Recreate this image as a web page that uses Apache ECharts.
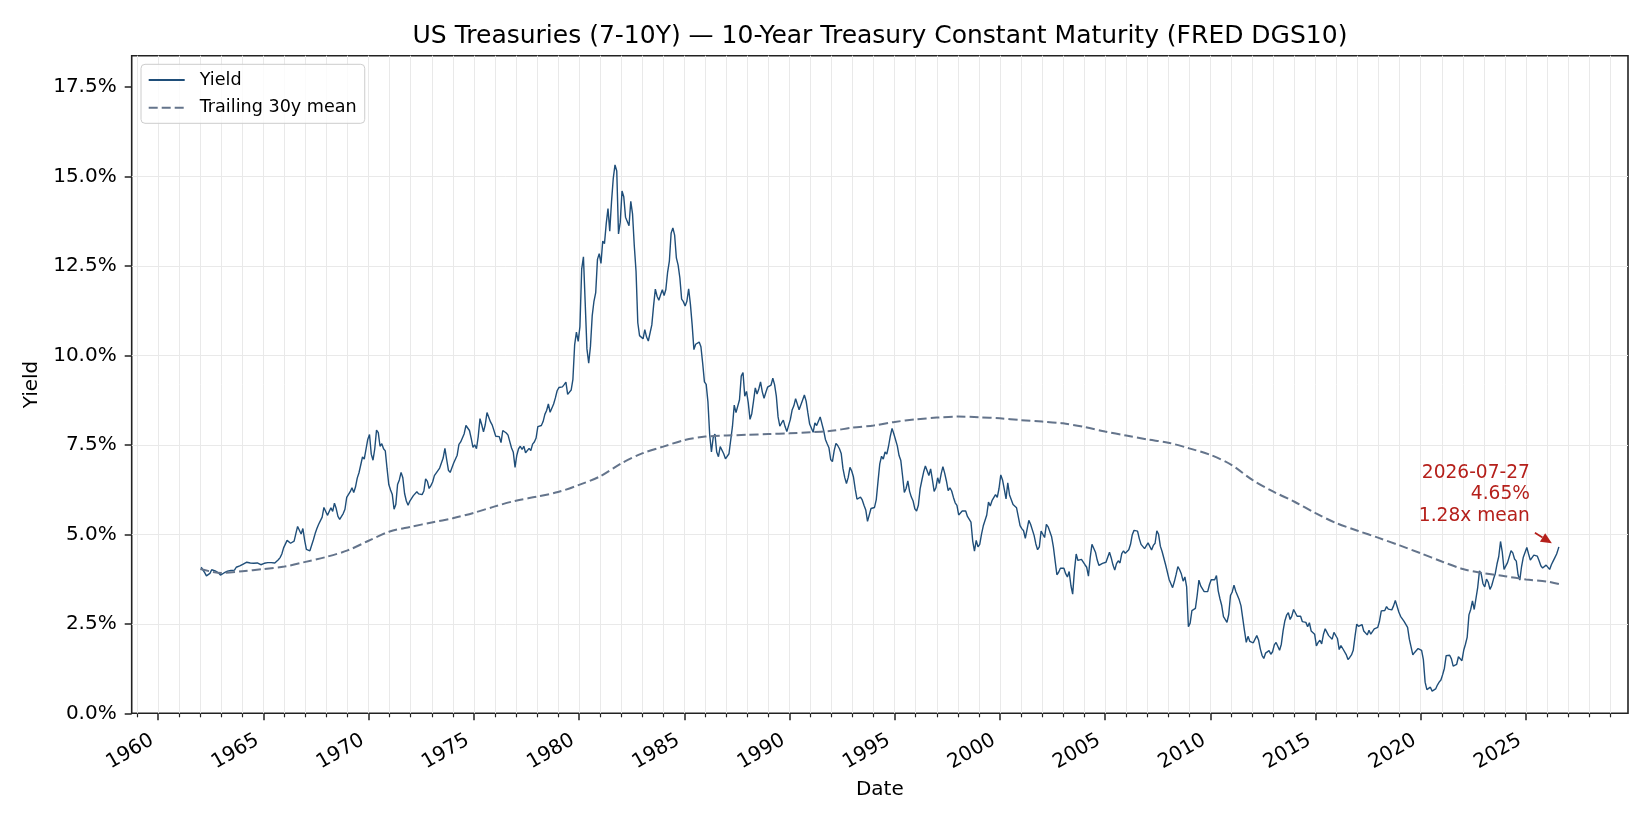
<!DOCTYPE html>
<html>
<head>
<meta charset="utf-8">
<script src="https://cdn.jsdelivr.net/npm/echarts@6/dist/echarts.min.js"></script>
<style>
  html, body { margin: 0; padding: 0; background: #fff; }
  #chart { width: 1650px; height: 825px; }
</style>
</head>
<body>
<div id="chart"></div>
<script>
// 10y constant maturity yield, monthly averages (%), Jan..Dec, starting 1962
const firstYear = 1962;
const yields1960s = [
  4.08, 4.04, 3.93, 3.84, 3.87, 3.91, 4.01, 3.98, 3.98, 3.93, 3.92, 3.86,
  3.83, 3.92, 3.93, 3.97, 3.93, 3.99, 4.02, 4.00, 4.08, 4.11, 4.12, 4.13,
  4.17, 4.15, 4.22, 4.23, 4.20, 4.17, 4.19, 4.19, 4.20, 4.19, 4.15, 4.18,
  4.19, 4.21, 4.21, 4.20, 4.21, 4.21, 4.20, 4.25, 4.29, 4.35, 4.45, 4.62,
  4.61, 4.83, 4.87, 4.75, 4.78, 4.81, 5.02, 5.22, 5.18, 5.01, 5.16, 4.84,
  4.58, 4.63, 4.54, 4.59, 4.85, 5.02, 5.16, 5.28, 5.30, 5.48, 5.75, 5.70,
  5.53, 5.56, 5.74, 5.64, 5.87, 5.72, 5.50, 5.42, 5.46, 5.58, 5.70, 6.03,
  6.04, 6.19, 6.30, 6.17, 6.32, 6.57, 6.72, 6.69, 7.16, 7.10, 7.14, 7.65
];
const yields1970s = [
  7.79, 7.24, 7.07, 7.39, 7.91, 7.84, 7.46, 7.53, 7.39, 7.33, 6.84, 6.39,
  6.24, 6.11, 5.70, 5.83, 6.39, 6.52, 6.73, 6.58, 6.14, 5.93, 5.81, 5.93,
  5.95, 6.08, 6.07, 6.19, 6.13, 6.11, 6.11, 6.21, 6.55, 6.48, 6.28, 6.36,
  6.46, 6.64, 6.71, 6.67, 6.85, 6.90, 7.13, 7.40, 7.09, 6.79, 6.73, 6.74,
  6.99, 6.96, 7.21, 7.51, 7.58, 7.54, 7.81, 8.04, 8.04, 7.90, 7.68, 7.43,
  7.50, 7.39, 7.73, 8.23, 8.06, 7.86, 8.06, 8.40, 8.43, 8.14, 8.05, 8.00,
  7.74, 7.79, 7.73, 7.56, 7.90, 7.86, 7.83, 7.77, 7.59, 7.41, 7.29, 6.87,
  7.21, 7.39, 7.46, 7.37, 7.46, 7.28, 7.33, 7.40, 7.34, 7.52, 7.58, 7.69,
  8.01, 8.03, 8.04, 8.15, 8.35, 8.46, 8.64, 8.41, 8.42, 8.64, 8.81, 9.01,
  9.10, 9.10, 9.12, 9.18, 9.25, 8.91, 8.95, 9.03, 9.33, 10.30, 10.65, 10.39
];
const yields1980s = [
  10.80, 12.41, 12.75, 11.47, 10.18, 9.78, 10.25, 11.10, 11.51, 11.75, 12.68, 12.84,
  12.57, 13.19, 13.12, 13.68, 14.10, 13.47, 14.28, 14.94, 15.32, 15.15, 13.39, 13.72,
  14.59, 14.43, 13.86, 13.87, 13.62, 14.30, 13.95, 13.06, 12.34, 10.91, 10.55, 10.54,
  10.46, 10.72, 10.51, 10.40, 10.38, 10.85, 11.38, 11.85, 11.65, 11.54, 11.69, 11.83,
  11.67, 11.84, 12.32, 12.63, 13.41, 13.56, 13.36, 12.72, 12.52, 12.16, 11.57, 11.50,
  11.38, 11.51, 11.86, 11.43, 10.85, 10.16, 10.31, 10.33, 10.37, 10.24, 9.78, 9.26,
  9.19, 8.70, 7.78, 7.30, 7.71, 7.80, 7.30, 7.17, 7.45, 7.43, 7.25, 7.11,
  7.08, 7.25, 7.25, 8.02, 8.61, 8.40, 8.45, 8.76, 9.42, 9.52, 8.86, 8.99,
  8.67, 8.21, 8.37, 8.72, 9.09, 8.92, 9.06, 9.26, 8.98, 8.80, 8.96, 9.11,
  9.09, 9.17, 9.36, 9.18, 8.86, 8.28, 8.02, 8.11, 8.19, 8.01, 7.87, 7.84
];
const yields1990s = [
  8.21, 8.47, 8.59, 8.79, 8.76, 8.48, 8.47, 8.75, 8.89, 8.72, 8.39, 8.08,
  8.09, 7.85, 8.11, 8.04, 8.07, 8.28, 8.27, 7.90, 7.65, 7.53, 7.42, 7.09,
  7.03, 7.34, 7.54, 7.48, 7.39, 7.26, 6.84, 6.59, 6.42, 6.59, 6.87, 6.77,
  6.60, 6.26, 5.98, 5.97, 6.04, 5.96, 5.81, 5.68, 5.36, 5.33, 5.72, 5.77,
  5.75, 5.97, 6.48, 6.97, 7.18, 7.10, 7.30, 7.24, 7.46, 7.74, 7.96, 7.81,
  7.78, 7.47, 7.20, 7.06, 6.63, 6.17, 6.28, 6.49, 6.20, 6.04, 5.93, 5.71,
  5.65, 5.81, 6.27, 6.51, 6.74, 6.91, 6.87, 6.64, 6.83, 6.53, 6.20, 6.30,
  6.58, 6.42, 6.69, 6.89, 6.71, 6.49, 6.22, 6.30, 6.21, 6.03, 5.88, 5.81,
  5.54, 5.57, 5.65, 5.64, 5.65, 5.50, 5.46, 5.34, 4.81, 4.53, 4.83, 4.65,
  4.72, 5.00, 5.23, 5.18, 5.54, 5.90, 5.79, 5.94, 5.92, 6.11, 6.03, 6.28
];
const yields2000s = [
  6.66, 6.52, 6.26, 5.99, 6.44, 6.10, 6.05, 5.83, 5.80, 5.74, 5.72, 5.24,
  5.16, 5.10, 4.89, 5.14, 5.39, 5.28, 5.24, 4.97, 4.73, 4.57, 4.65, 5.09,
  5.04, 4.91, 5.28, 5.21, 5.16, 4.93, 4.65, 4.26, 3.87, 3.94, 4.05, 4.03,
  4.05, 3.90, 3.81, 3.96, 3.57, 3.33, 3.98, 4.45, 4.27, 4.29, 4.30, 4.27,
  4.15, 4.08, 3.83, 4.35, 4.72, 4.73, 4.50, 4.28, 4.13, 4.10, 4.19, 4.23,
  4.22, 4.17, 4.50, 4.34, 4.14, 4.00, 4.18, 4.26, 4.20, 4.46, 4.54, 4.47,
  4.42, 4.57, 4.72, 4.99, 5.11, 5.11, 5.09, 4.88, 4.72, 4.73, 4.60, 4.56,
  4.76, 4.72, 4.56, 4.69, 4.75, 5.10, 5.00, 4.67, 4.52, 4.53, 4.15, 4.10,
  3.74, 3.74, 3.51, 3.68, 3.88, 4.10, 4.01, 3.89, 3.69, 3.81, 3.53, 2.42,
  2.52, 2.87, 2.82, 2.93, 3.29, 3.72, 3.56, 3.59, 3.40, 3.39, 3.40, 3.59
];
const yields2010s = [
  3.73, 3.69, 3.73, 3.85, 3.42, 3.20, 3.01, 2.70, 2.65, 2.54, 2.76, 3.29,
  3.39, 3.58, 3.41, 3.46, 3.17, 3.00, 3.00, 2.30, 1.98, 2.15, 2.01, 1.98,
  1.97, 1.97, 2.17, 2.05, 1.80, 1.62, 1.53, 1.68, 1.72, 1.75, 1.65, 1.72,
  1.91, 1.98, 1.96, 1.76, 1.93, 2.30, 2.58, 2.74, 2.81, 2.62, 2.72, 2.90,
  2.86, 2.71, 2.72, 2.71, 2.56, 2.60, 2.54, 2.42, 2.53, 2.30, 2.33, 2.21,
  1.88, 1.98, 2.04, 1.94, 2.20, 2.36, 2.32, 2.17, 2.17, 2.07, 2.26, 2.24,
  2.09, 1.78, 1.89, 1.81, 1.81, 1.64, 1.50, 1.56, 1.63, 1.76, 2.14, 2.49,
  2.43, 2.42, 2.48, 2.30, 2.30, 2.19, 2.32, 2.21, 2.20, 2.36, 2.35, 2.40,
  2.58, 2.86, 2.84, 2.87, 2.98, 2.91, 2.89, 2.89, 3.00, 3.15, 3.12, 2.83,
  2.71, 2.68, 2.57, 2.53, 2.40, 2.07, 2.06, 1.63, 1.70, 1.71, 1.81, 1.86
];
const yields2020s = [
  1.76, 1.50, 0.87, 0.66, 0.67, 0.73, 0.62, 0.65, 0.68, 0.79, 0.87, 0.93,
  1.08, 1.26, 1.61, 1.64, 1.62, 1.52, 1.32, 1.28, 1.37, 1.58, 1.56, 1.47,
  1.76, 1.93, 2.13, 2.75, 2.90, 3.14, 2.90, 2.90, 3.52, 3.98, 3.89, 3.62,
  3.53, 3.75, 3.66, 3.46, 3.57, 3.75, 3.90, 4.17, 4.38, 4.80, 4.50, 4.02,
  4.06, 4.21, 4.21, 4.54, 4.48, 4.31, 4.25, 3.87, 3.72, 4.10, 4.36, 4.39,
  4.63, 4.45, 4.28, 4.28, 4.42, 4.38, 4.39, 4.26, 4.12, 4.06, 4.09, 4.14,
  4.10, 4.02, 4.15, 4.25, 4.35, 4.45
];

// last observation (annotated)
const lastDate = '2026-07-27';
const lastPos = 2026.566;
const lastYield = 4.65;
const lastRatio = 1.28;

// trailing 30y mean, read at year marks
const meanYears = [
  1962, 1963, 1964, 1965, 1966, 1967, 1968, 1969, 1970, 1971, 1972, 1973, 1974,
  1975, 1976, 1977, 1978, 1979, 1980, 1981, 1982, 1983, 1984, 1985, 1986, 1987,
  1988, 1989, 1990, 1991, 1992, 1993, 1994, 1995, 1996, 1997, 1998, 1999, 2000,
  2001, 2002, 2003, 2004, 2005, 2006, 2007, 2008, 2009, 2010, 2011, 2012, 2013,
  2014, 2015, 2016, 2017, 2018, 2019, 2020, 2021, 2022, 2023, 2024, 2025, 2026, 2026.566
];
const meanValues = [
  4.03, 3.92, 3.97, 4.03, 4.10, 4.23, 4.37, 4.55, 4.82, 5.08, 5.21, 5.33, 5.45,
  5.60, 5.78, 5.94, 6.05, 6.18, 6.38, 6.62, 6.98, 7.26, 7.45, 7.63, 7.73, 7.76,
  7.78, 7.80, 7.82, 7.85, 7.89, 7.98, 8.04, 8.14, 8.21, 8.26, 8.29, 8.27, 8.24,
  8.19, 8.15, 8.10, 8.00, 7.87, 7.76, 7.65, 7.56, 7.40, 7.22, 6.94, 6.52, 6.19,
  5.91, 5.59, 5.31, 5.10, 4.90, 4.69, 4.47, 4.24, 4.03, 3.91, 3.83, 3.74, 3.68, 3.61
];

// axis ticks
const majorYears = [1960, 1965, 1970, 1975, 1980, 1985, 1990, 1995, 2000, 2005, 2010, 2015, 2020, 2025];
const yTicks = [0, 2.5, 5, 7.5, 10, 12.5, 15, 17.5];
const xMin = 1958.74, xMax = 2029.85;
const yMax = 18.37;

const allYears = [];
for (let y = 1959; y <= 2029; y++) allYears.push(y);
const minorYears = allYears.filter(y => y % 5 !== 0);

const monthly = [].concat(yields1960s, yields1970s, yields1980s, yields1990s, yields2000s, yields2010s, yields2020s);
const yieldPts = monthly.map((v, i) => [firstYear + (i + 0.5) / 12, v]);
yieldPts.push([lastPos, lastYield]);
const meanPts = meanYears.map((y, i) => [y, meanValues[i]]);

const gridTop = 55.7, gridBottom = 111.7, gridLeft = 131.7, gridRight = 22;
const plotH = 825 - gridTop - gridBottom;
const ink = '#222';
const gridCol = '#e9e9e9';
const red = '#b5201b';

const chart = echarts.init(document.getElementById('chart'));

const baseX = {
  type: 'value', min: xMin, max: xMax, position: 'bottom',
  axisLine: { show: false }, splitLine: { show: false },
  axisLabel: { show: false }, axisTick: { show: false }
};

chart.setOption({
  animation: false,
  textStyle: { fontFamily: 'DejaVu Sans' },
  title: {
    text: 'US Treasuries (7-10Y) \u2014 10-Year Treasury Constant Maturity (FRED DGS10)',
    left: 875, top: 19, textAlign: 'center',
    textStyle: { fontSize: 25, fontWeight: 'normal', color: '#000', fontFamily: 'DejaVu Sans' }
  },
  grid: {
    left: gridLeft, right: gridRight, top: gridTop, bottom: gridBottom,
    show: true, borderColor: ink, borderWidth: 1.6
  },
  legend: {
    orient: 'vertical', left: 141, top: 64.3,
    padding: [5.7, 8, 5.6, 6.7],
    itemWidth: 36, itemHeight: 14, itemGap: 7.7,
    backgroundColor: 'rgba(255,255,255,0.8)',
    borderColor: '#cccccc', borderWidth: 1, borderRadius: 4,
    textStyle: { fontSize: 17.6, color: '#000', lineHeight: 20, padding: [0, 0, 0, 10], fontFamily: 'DejaVu Sans' },
    itemStyle: { color: 'rgba(0,0,0,0)', borderWidth: 0 },
    data: ['Yield', 'Trailing 30y mean']
  },
  xAxis: [
    Object.assign({}, baseX, {
      name: 'Date', nameLocation: 'middle', nameGap: 61,
      nameTextStyle: { fontSize: 20, color: '#000' },
      axisTick: { show: true, customValues: majorYears, length: 7, lineStyle: { color: ink, width: 1.5 } },
      axisLabel: {
        show: true, customValues: majorYears, rotate: 30, margin: 22, padding: [0, 7, 0, 0],
        fontSize: 20, color: '#000', formatter: v => String(Math.round(v))
      }
    }),
    Object.assign({}, baseX, {
      axisTick: { show: true, customValues: minorYears, length: 4, lineStyle: { color: ink, width: 1.2 } }
    }),
    Object.assign({}, baseX, {
      axisTick: { show: true, inside: true, customValues: allYears, length: plotH, lineStyle: { color: gridCol, width: 1 } }
    })
  ],
  yAxis: {
    type: 'value', min: 0, max: yMax, interval: 2.5,
    name: 'Yield', nameLocation: 'middle', nameGap: 88,
    nameTextStyle: { fontSize: 20, color: '#000' },
    axisLine: { show: false },
    axisTick: { show: true, customValues: yTicks, length: 7, lineStyle: { color: ink, width: 1.5 } },
    axisLabel: { customValues: yTicks, margin: 15, fontSize: 20, color: '#000', formatter: v => v.toFixed(1) + '%' },
    splitLine: { show: true, showMinLine: false, showMaxLine: false, lineStyle: { color: gridCol, width: 1 } }
  },
  series: [
    {
      name: 'Yield', type: 'line', data: yieldPts,
      symbol: 'none', showSymbol: false, z: 3,
      lineStyle: { color: '#1f4e79', width: 1.4 },
      itemStyle: { color: '#1f4e79' }
    },
    {
      name: 'Trailing 30y mean', type: 'line', data: meanPts,
      symbol: 'none', showSymbol: false, smooth: 0.3, z: 4,
      lineStyle: { color: '#64748b', width: 2, type: [9, 4] },
      itemStyle: { color: '#64748b' }
    }
  ]
});

// annotation for the last point
const p = chart.convertToPixel({ xAxisIndex: 0, yAxisIndex: 0 }, [lastPos, lastYield]);
const tail = [p[0] - 24, p[1] - 14];
const tip = [p[0] - 7, p[1] - 3.5];
const dx = tip[0] - tail[0], dy = tip[1] - tail[1];
const len = Math.sqrt(dx * dx + dy * dy);
const ux = dx / len, uy = dy / len;
const hl = 11, hw = 5;
const base = [tip[0] - ux * hl, tip[1] - uy * hl];

chart.setOption({
  graphic: [
    {
      type: 'text', x: p[0] - 29, y: p[1] - 20, z: 10,
      style: {
        text: lastDate + '\n' + lastYield.toFixed(2) + '%\n' + lastRatio.toFixed(2) + 'x mean',
        align: 'right', verticalAlign: 'bottom', fill: red,
        font: '18.6px "DejaVu Sans"', lineHeight: 21.5
      }
    },
    {
      type: 'line', z: 10,
      shape: { x1: tail[0], y1: tail[1], x2: base[0], y2: base[1] },
      style: { stroke: red, lineWidth: 1.8 }
    },
    {
      type: 'polygon', z: 10,
      shape: { points: [tip, [base[0] - uy * hw, base[1] + ux * hw], [base[0] + uy * hw, base[1] - ux * hw]] },
      style: { fill: red }
    }
  ]
});
</script>
</body>
</html>
